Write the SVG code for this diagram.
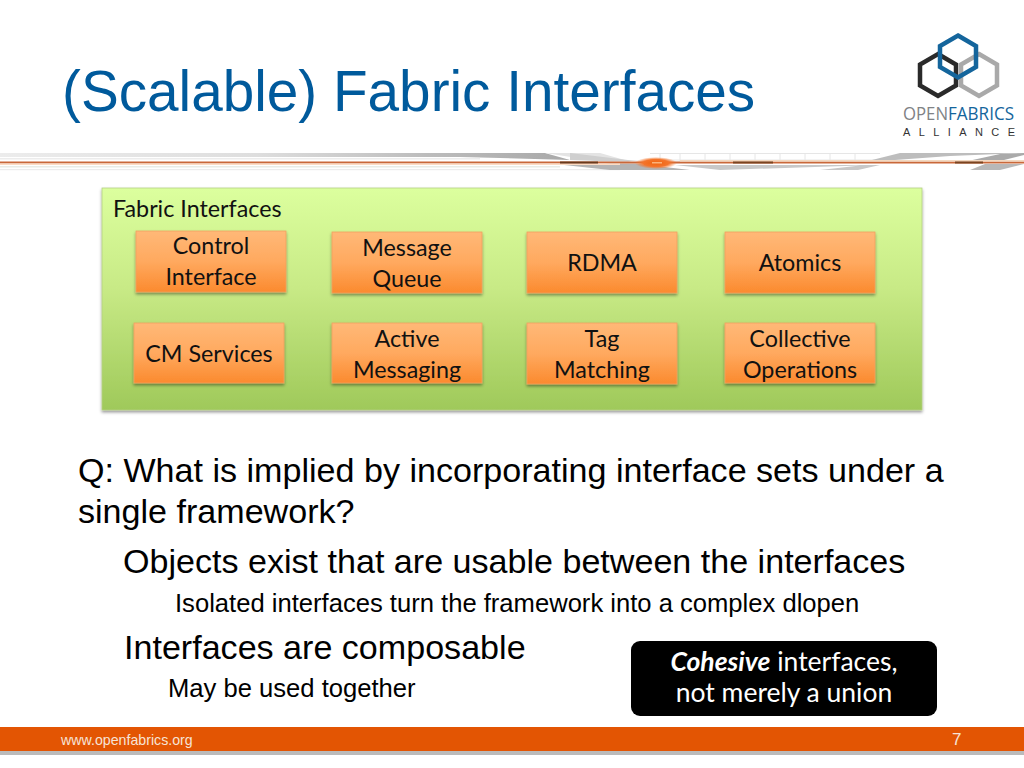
<svg xmlns="http://www.w3.org/2000/svg" width="1024" height="768" viewBox="0 0 1024 768">
<style>
.t{font-family:"Liberation Sans",Arial,sans-serif;fill:#000}
.b1{font-size:34.1px}
.b2{font-size:25.6px}
.c{font-family:Lato,"Open Sans",sans-serif;font-size:23.3px;fill:#111;text-anchor:middle}
.w{font-size:26.5px;fill:#fff}
.n{fill:url(#org);stroke:#f0a060;stroke-width:.8;filter:url(#sh)}
.hex{fill:none;stroke-width:4.500}
.grid{fill:none;stroke:#e6e6e6;stroke-width:1}
</style>
<defs>
<linearGradient id="grn" x1="0" y1="0" x2="0" y2="1"><stop offset="0" stop-color="#dcff9e"/><stop offset=".45" stop-color="#c8ea86"/><stop offset="1" stop-color="#9fc95a"/></linearGradient>
<linearGradient id="org" x1="0" y1="0" x2="0" y2="1"><stop offset="0" stop-color="#ffb877"/><stop offset=".5" stop-color="#ffa95f"/><stop offset="1" stop-color="#fb8a2e"/></linearGradient>
<linearGradient id="gr1" x1="0" y1="0" x2="1" y2="0"><stop offset="0" stop-color="#ececec"/><stop offset=".45" stop-color="#dedede"/><stop offset=".75" stop-color="#bcbcbc"/><stop offset="1" stop-color="#a9a9a9"/></linearGradient>
<radialGradient id="glow"><stop offset="0" stop-color="#ef6410"/><stop offset=".6" stop-color="#f4742a"/><stop offset="1" stop-color="#f4742a" stop-opacity="0"/></radialGradient>
<filter id="sh" x="-10%" y="-10%" width="120%" height="125%"><feDropShadow dx="0" dy="2" stdDeviation="1.500" flood-color="#000" flood-opacity=".4"/></filter>
</defs>
<rect width="1024" height="768" fill="#fff"/>

<g id="header-band">
<path d="M0 153H545L570 160 460 157H0Z" fill="url(#gr1)"/>
<rect x="0" y="158" width="480" height="1.500" fill="#ececec"/>
<rect x="0" y="166" width="560" height="1.500" fill="#e8ece6"/>
<rect x="0" y="169" width="620" height="1.200" fill="#ececec"/>
<path d="M545 153H600L660 170H640L590 160Z" fill="#e4e4e4"/>
<path d="M570 160L600 161H640L628 160 570 153Z" fill="#cfcfcf"/>
<path d="M555 164H640L690 170H610Z" fill="#b4b4b4"/>
<path class="grid" d="M650 153.500H880M650 160H880M660 153V161M680 153V161M705 153V161M730 153V161M755 153V161M780 153V161M805 153V161M830 153V161M855 153V161"/>
<path d="M675 165H880L858 170H820L860 165.500 720 170Z" fill="#c8c8c8"/>
<path d="M872 160L900 153H1024L950 156 895 160Z" fill="#bdbdbd"/>
<path d="M968 161L1000 154 1024 153V155L1000 161Z" fill="#aaa"/>
<path d="M970 170L985 164H1024L1000 170Z" fill="#b8b8b8"/>
<rect x="0" y="161.500" width="1024" height="2" fill="#c9683a"/>
<rect x="0" y="163.500" width="620" height="1.500" fill="#fbdcc4"/>
<rect x="680" y="160" width="344" height="1.500" fill="#f3d9c0"/>
<ellipse cx="656" cy="163" rx="21" ry="6" fill="url(#glow)"/>
<rect x="652" y="162" width="10" height="1.500" fill="#fbb27a"/>
<rect x="560" y="161.500" width="38" height="2" fill="#6a3a1c"/>
<rect x="733" y="161.500" width="40" height="2" fill="#7a4420"/>
<rect x="955" y="161.500" width="28" height="2" fill="#7a4420"/>
</g>

<text id="title" class="t" x="62" y="111" font-size="56.700" style="fill:#005a9c">(Scalable) Fabric Interfaces</text>

<g id="logo">
<polygon class="hex" points="938,54 956,64.500 956,85.500 938,96 920,85.500 920,64.500" stroke="#2a2a2a"/>
<polygon class="hex" points="979,54 997,64.500 997,85.500 979,96 961,85.500 961,64.500" stroke="#a9a9a9"/>
<polygon class="hex" points="958,35.500 976,46 976,67 958,77.500 940,67 940,46" stroke="#14659c"/>
<text x="903" y="120" font-family="'Open Sans',sans-serif" font-size="18.500" fill="#808285" textLength="45" lengthAdjust="spacingAndGlyphs">OPEN</text>
<text x="948" y="120" font-family="'Open Sans',sans-serif" font-size="18.500" fill="#14659c" textLength="66" lengthAdjust="spacingAndGlyphs">FABRICS</text>
<text x="903" y="135.500" font-family="'Liberation Sans',sans-serif" font-size="11" fill="#333" textLength="112">ALLIANCE</text>
</g>

<g id="fabric-interfaces">
<rect x="102" y="188" width="820" height="222" fill="url(#grn)" stroke="#b5cf85" stroke-width=".8" filter="url(#sh)"/>
<text class="c" x="113" y="217" style="text-anchor:start">Fabric Interfaces</text>
</g>
<g id="control-interface"><rect class="n" x="136" y="231" width="150" height="61"/><text class="c" x="211" y="254">Control</text><text class="c" x="211" y="285">Interface</text></g>
<g id="message-queue"><rect class="n" x="332" y="232" width="150" height="61"/><text class="c" x="407" y="256">Message</text><text class="c" x="407" y="287">Queue</text></g>
<g id="rdma"><rect class="n" x="527" y="232" width="150" height="61"/><text class="c" x="602" y="271">RDMA</text></g>
<g id="atomics"><rect class="n" x="725" y="232" width="150" height="61"/><text class="c" x="800" y="271">Atomics</text></g>
<g id="cm-services"><rect class="n" x="134" y="323" width="150" height="60"/><text class="c" x="209" y="362">CM Services</text></g>
<g id="active-messaging"><rect class="n" x="332" y="323" width="150" height="60"/><text class="c" x="407" y="347">Active</text><text class="c" x="407" y="378">Messaging</text></g>
<g id="tag-matching"><rect class="n" x="527" y="323" width="150" height="61"/><text class="c" x="602" y="347">Tag</text><text class="c" x="602" y="378">Matching</text></g>
<g id="collective-operations"><rect class="n" x="725" y="323" width="150" height="60"/><text class="c" x="800" y="347">Collective</text><text class="c" x="800" y="378">Operations</text></g>

<g id="body">
<text class="t b1" x="78" y="482">Q: What is implied by incorporating interface sets under a</text>
<text class="t b1" x="78" y="523">single framework?</text>
<text class="t b1" x="123" y="573">Objects exist that are usable between the interfaces</text>
<text class="t b2" x="175" y="612">Isolated interfaces turn the framework into a complex dlopen</text>
<text class="t b1" x="124" y="659">Interfaces are composable</text>
<text class="t b2" x="168" y="697">May be used together</text>
</g>

<g id="callout">
<rect x="631" y="641" width="306" height="75" rx="9" fill="#000"/>
<text class="c w" x="784" y="671"><tspan font-weight="700" font-style="italic">Cohesive</tspan> interfaces,</text>
<text class="c w" x="784" y="702">not merely a union</text>
</g>

<g id="footer">
<rect x="0" y="751" width="1024" height="4" fill="#bbb"/>
<rect x="0" y="727" width="1024" height="24" fill="#e35503"/>
<text x="61" y="745" font-family="'Liberation Sans',sans-serif" font-size="14.200" fill="#f6e3d6">www.openfabrics.org</text>
<text x="952" y="745" font-family="'Liberation Sans',sans-serif" font-size="17" fill="#f6e3d6">7</text>
</g>
</svg>
